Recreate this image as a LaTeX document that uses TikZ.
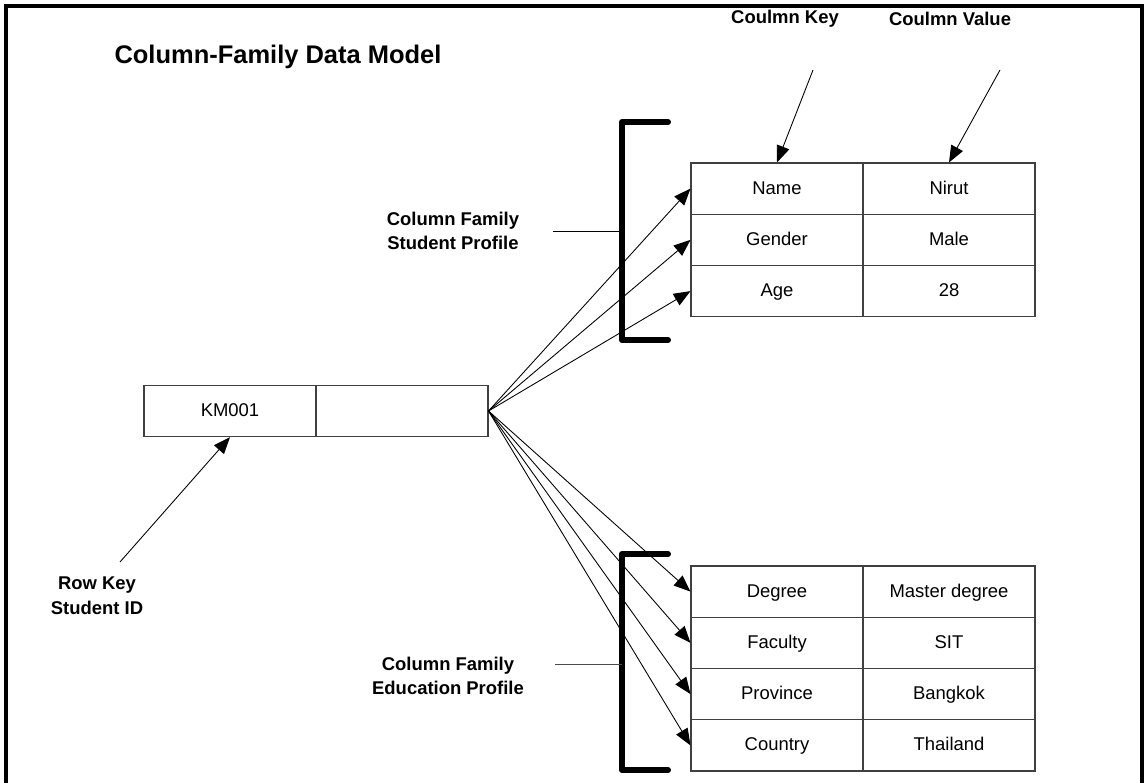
\documentclass[tikz,border=0pt]{standalone}
\usepackage{fontspec}
\setmainfont{Liberation Sans}
\usetikzlibrary{arrows.meta}

\begin{document}
\begin{tikzpicture}[x=0.02cm,y=-0.02cm]
\tikzstyle{cell}=[draw=black!75,line width=0.6pt,minimum width=3.44cm,minimum height=1.025cm,inner sep=0pt,text height=1.5ex,text depth=.3ex,font=\fontsize{10.5}{12}\selectfont]
\tikzstyle{lbl}=[align=center,font=\fontsize{10.5}{14}\selectfont\bfseries]
\tikzstyle{brk}=[line width=3.4pt,line cap=round,line join=round]
\tikzstyle{arr}=[line width=0.5pt,-{Triangle[length=9.5pt,width=7.5pt]}]
\useasboundingbox (0,0) rectangle (1146,783);
% frame
\draw[line width=2pt] (6,783) -- (6,6) -- (1142,6) -- (1142,783);
\node[font=\fontsize{14.5}{16}\selectfont\bfseries] (title) at (278,57) {Column-Family Data Model};
\node[lbl] (ckey) at (785,19) {Coulmn Key};
\node[lbl] (cval) at (950,19) {Coulmn Value};
% row key
\node[cell] (km) at (230,411) {KM001};
\node[cell] (kmv) at (402,411) {};
% student profile
\node[cell] (name) at (777,188.6) {Name};
\node[cell] (nirut) at (949,188.6) {Nirut};
\node[cell] (gender) at (777,239.9) {Gender};
\node[cell] (male) at (949,239.9) {Male};
\node[cell] (age) at (777,291.1) {Age};
\node[cell] (agev) at (949,291.1) {28};
% education profile
\node[cell] (degree) at (777,591.6) {Degree};
\node[cell] (master) at (949,591.6) {Master degree};
\node[cell] (faculty) at (777,642.9) {Faculty};
\node[cell] (sit) at (949,642.9) {SIT};
\node[cell] (province) at (777,694.1) {Province};
\node[cell] (bangkok) at (949,694.1) {Bangkok};
\node[cell] (country) at (777,745.4) {Country};
\node[cell] (thailand) at (949,745.4) {Thailand};
% labels
\node[lbl] (cf1) at (453,231) {Column Family\\Student Profile};
\node[lbl] (cf2) at (448,676) {Column Family\\Education Profile};
\node[lbl] (rowkey) at (97,596) {Row Key\\Student ID};
% brackets
\draw[brk] (668,122) -- (622,122) -- (622,340) -- (668,340);
\draw[brk] (668,554) -- (622,554) -- (622,770) -- (668,770);
\coordinate (b1) at (622,231);
\coordinate (b2) at (622,664);
\coordinate (l1) at (553,231);
\coordinate (l2) at (555,664);
\draw[line width=0.5pt] (l1) -- (b1);
\draw[line width=0.5pt,black!70] (l2) -- (b2);
% label arrows
\coordinate (ck) at (813,70);
\coordinate (cv) at (1000,70);
\coordinate (rk) at (120,562);
\draw[arr] (ck) -- (name.north);
\draw[arr] (cv) -- (nirut.north);
\draw[arr] (rk) -- (km.south);
% column arrows
\draw[arr] (kmv.east) -- (name.west);
\draw[arr] (kmv.east) -- (gender.west);
\draw[arr] (kmv.east) -- (age.west);
\draw[arr] (kmv.east) -- (degree.west);
\draw[arr] (kmv.east) -- (faculty.west);
\draw[arr] (kmv.east) -- (province.west);
\draw[arr] (kmv.east) -- (country.west);
\end{tikzpicture}
\end{document}
